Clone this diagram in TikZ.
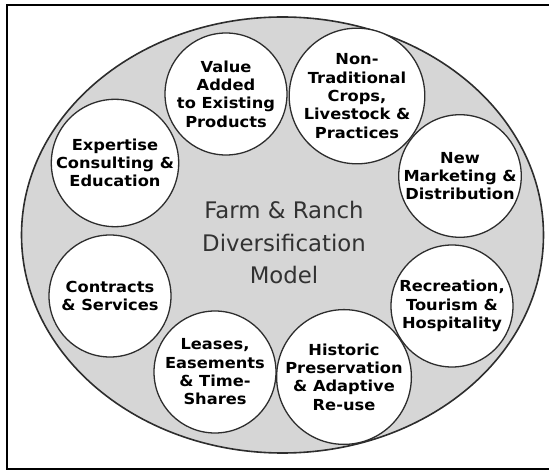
\documentclass[tikz,border=0pt]{standalone}
\usepackage{fontspec}
\setmainfont{DejaVu Sans}
\newfontfamily\topicfont{DejaVu Sans}[FakeStretch=1.07]
\usetikzlibrary{shapes.geometric}
\definecolor{fieldgray}{RGB}{214,214,214}
\definecolor{edgegray}{RGB}{45,45,45}
\definecolor{titlegray}{RGB}{50,50,50}
\begin{document}
\begin{tikzpicture}[x=1pt,y=-1pt,
  field/.style={ellipse,draw=edgegray,line width=1.6pt,fill=fieldgray,
    minimum width=522pt,minimum height=436pt,inner sep=0pt},
  topic/.style={circle,draw=edgegray,line width=1.3pt,fill=white,
    minimum size=122pt,inner sep=0pt,align=center,text=black,
    font=\topicfont\fontsize{15.2}{18.3}\selectfont\bfseries},
  title/.style={align=center,text=titlegray,
    font=\fontsize{22.8}{32.5}\selectfont}]
\useasboundingbox (0,0) rectangle (549,470);
% frame (its right side runs past the page edge)
\draw[line width=2pt] (553,5) -- (7,5) -- (7,469) -- (553,469);
% the big field
\node[field] (farm) at (282.5,235) {};
% centre title
\node[title] (model) at (284,243) {Farm \& Ranch\\Diversification\\Model};
% the eight activity circles
\node[topic] (value)   at (226,94)  {Value\\Added\\to Existing\\Products};
\node[topic] (nontrad) at (357,96)  {Non-\\Traditional\\Crops,\\Livestock \&\\Practices};
\node[topic] (market)  at (460,176) {New\\Marketing \&\\Distribution};
\node[topic] (recreat) at (452,306) {Recreation,\\Tourism \&\\Hospitality};
\node[topic] (historic) at (344,377) {Historic\\Preservation\\\& Adaptive\\Re-use};
\node[topic] (leases)  at (215,372) {Leases,\\Easements\\\& Time-\\Shares};
\node[topic] (contract) at (110,296) {Contracts\\\& Services};
\node[topic] (expert)  at (115,163) {Expertise\\Consulting \&\\Education};
\end{tikzpicture}
\end{document}
